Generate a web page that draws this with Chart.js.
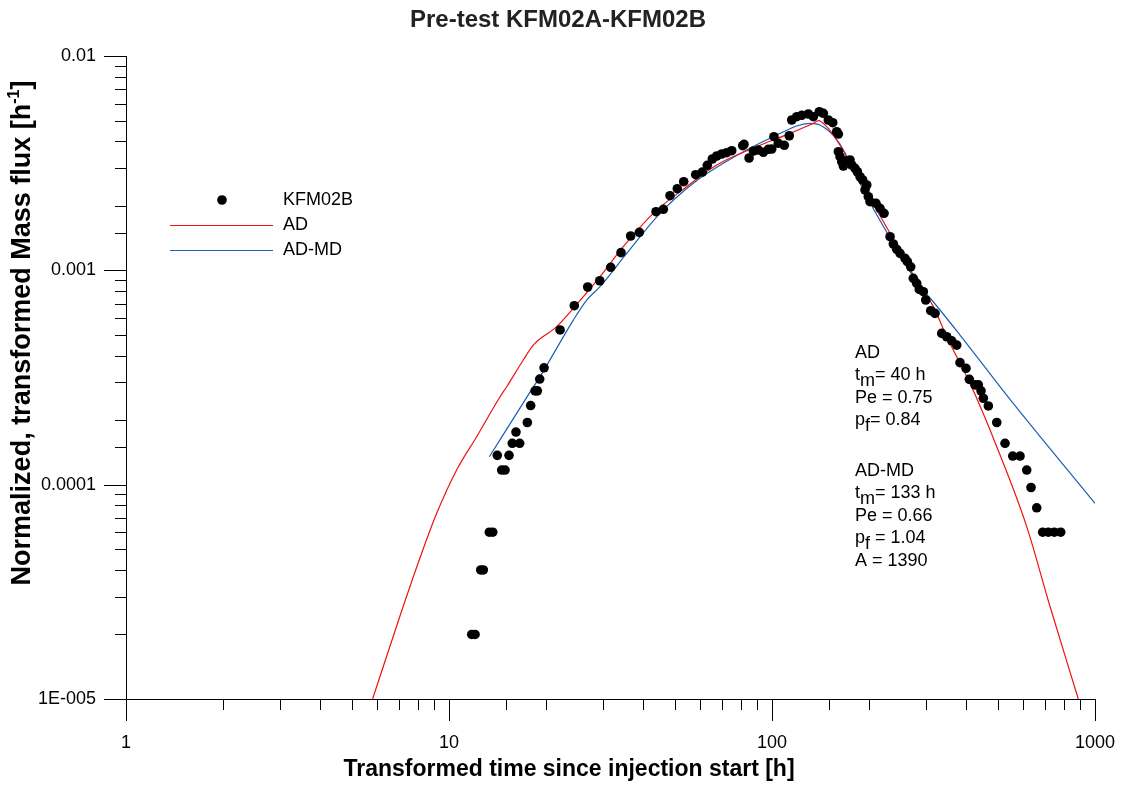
<!DOCTYPE html>
<html>
<head>
<meta charset="utf-8">
<title>Pre-test KFM02A-KFM02B</title>
<script src="https://cdn.jsdelivr.net/npm/chart.js@4.4.1/dist/chart.umd.min.js"></script>
<style>
  body { margin: 0; background: #fff; }
  #wrap { width: 1121px; height: 785px; }
</style>
</head>
<body>
<div id="wrap"><canvas id="btcChart" width="1121" height="785"></canvas></div>
<script>
// Measured breakthrough at KFM02B (time [h], normalized mass flux [1/h])
const obsTime = [
  11.76, 12.04, 12.54, 12.77, 13.33, 13.66, 14.11, 14.56, 14.91, 15.34,
  15.70, 16.12, 16.55, 17.48, 17.90, 18.47, 18.77, 19.09, 19.69, 22.07,
  24.43, 26.88, 29.29, 31.67, 34.08, 36.51, 38.84, 43.75, 46.09, 48.33,
  50.91, 53.29, 58.04, 60.84, 63.05, 65.34, 67.43, 69.88, 72.42, 75.04,
  81.18, 81.92, 84.91, 87.55, 90.72, 94.01, 97.40, 99.8, 101.4, 104.6,
  109.2, 113.1, 115.1, 119.3, 123.6, 129.6, 134.3, 140.1, 144.2, 149.4,
  154.2, 158.6, 160.5, 160.5, 162.4, 164.4, 166.3, 170.3, 174.4, 176.5,
  180.7, 183.7, 187.3, 190.9, 196.5, 194.1, 198.7, 201.1, 209.9, 216.0,
  222.3, 232.0, 237.5, 243.3, 249.1, 258.1, 262.4, 268.8, 273.8, 280.5,
  285.8, 294.1, 299.2, 310.0, 319.7, 335.3, 347.5, 360.1, 373.2, 382.0,
  398.7, 408.2, 425.2, 435.3, 443.8, 451.1, 467.5, 496.4, 526.6, 556.3,
  586.1, 614.6, 633.8, 660.0, 688.8, 717.0, 748.2, 783.1
];
const obsFlux = [
  2.0e-5, 2.0e-5, 4.0e-5, 4.0e-5, 6.0e-5, 6.0e-5, 1.37e-4, 1.17e-4, 1.17e-4, 1.37e-4,
  1.56e-4, 1.76e-4, 1.56e-4, 1.95e-4, 2.34e-4, 2.74e-4, 2.74e-4, 3.11e-4, 3.51e-4, 5.27e-4,
  6.84e-4, 8.36e-4, 8.94e-4, 1.033e-3, 1.209e-3, 1.446e-3, 1.504e-3, 1.877e-3, 1.926e-3, 2.229e-3,
  2.403e-3, 2.591e-3, 2.793e-3, 2.875e-3, 3.090e-3, 3.307e-3, 3.415e-3, 3.490e-3, 3.538e-3, 3.616e-3,
  3.815e-3, 3.873e-3, 3.343e-3, 3.604e-3, 3.642e-3, 3.553e-3, 3.670e-3, 3.682e-3, 4.201e-3, 3.915e-3,
  3.832e-3, 4.246e-3, 5.028e-3, 5.209e-3, 5.288e-3, 5.363e-3, 5.209e-3, 5.497e-3, 5.403e-3, 5.028e-3,
  4.884e-3, 4.433e-3, 4.325e-3, 3.576e-3, 3.389e-3, 3.212e-3, 3.067e-3, 3.247e-3, 3.272e-3, 3.100e-3,
  2.992e-3, 2.884e-3, 2.733e-3, 2.639e-3, 2.501e-3, 2.370e-3, 2.206e-3, 2.090e-3, 2.055e-3, 1.947e-3,
  1.845e-3, 1.435e-3, 1.327e-3, 1.253e-3, 1.200e-3, 1.137e-3, 1.097e-3, 1.039e-3, 9.18e-4, 8.70e-4,
  8.15e-4, 7.95e-4, 7.27e-4, 6.48e-4, 6.30e-4, 5.08e-4, 4.90e-4, 4.69e-4, 4.48e-4, 3.71e-4,
  3.49e-4, 3.10e-4, 2.92e-4, 2.92e-4, 2.74e-4, 2.53e-4, 2.33e-4, 1.95e-4, 1.56e-4, 1.36e-4,
  1.36e-4, 1.17e-4, 9.7e-5, 7.8e-5, 6.0e-5, 6.0e-5, 6.0e-5, 6.0e-5
];

// AD model fit
const adTime = [
  5.80, 7.05, 8.13, 9.16, 10.56, 12.18, 14.39, 15.09, 16.98, 18.24,
  21.54, 24.26, 29.35, 34.64, 42.91, 54.44, 67.43, 89.68, 113.7, 134.3,
  139.1, 147.7, 158.6, 191.8, 232.0, 273.8, 315.9, 347.5, 410.2, 496.4,
  614.6, 725.8, 887.9
];
const adFlux = [
  1.0e-5, 2.44e-5, 4.55e-5, 7.35e-5, 1.171e-4, 1.674e-4, 2.572e-4, 2.864e-4, 3.816e-4, 4.48e-4,
  5.46e-4, 6.65e-4, 9.34e-4, 1.289e-3, 1.845e-3, 2.456e-3, 3.100e-3, 3.773e-3, 4.356e-3, 4.853e-3,
  4.990e-3, 4.68e-3, 4.055e-3, 2.457e-3, 1.489e-3, 9.51e-4, 6.77e-4, 4.90e-4, 2.97e-4, 1.504e-4,
  6.37e-5, 2.70e-5, 1.0e-5
];

// AD-MD model fit
const admdTime = [
  13.33, 17.19, 19.13, 24.26, 26.69, 29.35, 35.49, 45.02, 57.06, 70.67,
  100.9, 131.1, 140.8, 160.5, 196.5, 237.5, 287.2, 312.3, 382.0, 557.5,
  1000
];
const admdFlux = [
  1.35e-4, 2.48e-4, 3.19e-4, 5.86e-4, 7.27e-4, 8.39e-4, 1.200e-3, 1.845e-3, 2.547e-3, 3.158e-3,
  4.201e-3, 4.853e-3, 4.765e-3, 3.981e-3, 2.206e-3, 1.336e-3, 8.39e-4, 7.27e-4, 4.99e-4, 2.40e-4,
  8.18e-5
];

const xTickValues = [1, 10, 100, 1000];
const xTickLabels = ['1', '10', '100', '1000'];
const yTickValues = [1e-5, 1e-4, 1e-3, 1e-2];
const yTickLabels = ['1E-005', '0.0001', '0.001', '0.01'];

// fitted parameters, "_" puts the next character in subscript
const adNotes = ['AD', 't_m= 40 h', 'Pe = 0.75', 'p_f= 0.84'];
const admdNotes = ['AD-MD', 't_m= 133 h', 'Pe = 0.66', 'p_f = 1.04', 'A = 1390'];

const FONT = '"Liberation Sans", Arial, sans-serif';

const toXY = (xs, ys) => xs.map((t, i) => ({ x: t, y: ys[i] }));

function isDecade(v) {
  const l = Math.log10(v);
  return Math.abs(l - Math.round(l)) < 1e-6;
}

function labelFor(values, labels) {
  return v => {
    const i = values.findIndex(t => Math.abs(Math.log10(t) - Math.log10(v)) < 1e-6);
    return i < 0 ? '' : labels[i];
  };
}

// text with "_x" subscripts
function drawRich(ctx, str, x, y) {
  let cx = x;
  for (let i = 0; i < str.length; i++) {
    let ch = str[i], dy = 0;
    if (ch === '_' && i + 1 < str.length) {
      ch = str[++i];
      dy = 6;
    }
    ctx.fillText(ch, cx, y + dy);
    cx += ctx.measureText(ch).width;
  }
}

const decorations = {
  id: 'decorations',
  afterDraw(chart) {
    const { ctx, chartArea: a, scales: { x, y } } = chart;
    ctx.save();

    // tick marks outside the axes, long at decades
    ctx.strokeStyle = '#000';
    ctx.lineWidth = 1;
    ctx.beginPath();
    x.ticks.forEach(t => {
      const px = Math.round(x.getPixelForValue(t.value)) + 0.5;
      const len = isDecade(t.value) ? 22 : 11;
      ctx.moveTo(px, a.bottom);
      ctx.lineTo(px, a.bottom + len);
    });
    y.ticks.forEach(t => {
      const py = Math.round(y.getPixelForValue(t.value)) + 0.5;
      const len = isDecade(t.value) ? 22 : 11;
      ctx.moveTo(a.left, py);
      ctx.lineTo(a.left - len, py);
    });
    ctx.stroke();

    // title
    ctx.fillStyle = '#222';
    ctx.textAlign = 'center';
    ctx.textBaseline = 'middle';
    ctx.font = 'bold 24px ' + FONT;
    ctx.fillText('Pre-test KFM02A-KFM02B', 558, 20);

    // x axis title
    ctx.fillStyle = '#000';
    ctx.font = 'bold 23px ' + FONT;
    ctx.fillText('Transformed time since injection start [h]', 569, 770);

    // y axis title with superscript
    ctx.save();
    ctx.translate(23, 333);
    ctx.rotate(-Math.PI / 2);
    const main = 'Normalized, transformed Mass flux [h';
    const big = 'bold 27px ' + FONT, small = 'bold 16px ' + FONT;
    ctx.font = big;
    const wMain = ctx.measureText(main).width;
    const wClose = ctx.measureText(']').width;
    ctx.font = small;
    const wSup = ctx.measureText('-1').width;
    let sx = -(wMain + wSup + wClose) / 2;
    ctx.textAlign = 'left';
    ctx.font = big;
    ctx.fillText(main, sx, 0);
    sx += wMain;
    ctx.font = small;
    ctx.fillText('-1', sx, -8);
    sx += wSup;
    ctx.font = big;
    ctx.fillText(']', sx, 0);
    ctx.restore();

    // legend
    const [obs, ad, admd] = chart.data.datasets;
    ctx.font = '18px ' + FONT;
    ctx.textAlign = 'left';
    ctx.textBaseline = 'middle';
    ctx.fillStyle = '#000';
    ctx.beginPath();
    ctx.arc(222, 200, obs.pointRadius, 0, Math.PI * 2);
    ctx.fill();
    ctx.fillText(obs.label, 283, 200);
    [[ad, 225], [admd, 250]].forEach(([ds, ly]) => {
      ctx.strokeStyle = ds.borderColor;
      ctx.lineWidth = ds.borderWidth;
      ctx.beginPath();
      ctx.moveTo(170, ly + 0.5);
      ctx.lineTo(273, ly + 0.5);
      ctx.stroke();
      ctx.fillText(ds.label, 283, ly);
    });

    // fit parameters
    adNotes.forEach((s, i) => drawRich(ctx, s, 855, 353 + i * 22.5));
    admdNotes.forEach((s, i) => drawRich(ctx, s, 855, 471 + i * 22.5));

    ctx.restore();
  }
};

new Chart(document.getElementById('btcChart'), {
  type: 'scatter',
  data: {
    datasets: [
      {
        label: 'KFM02B',
        data: toXY(obsTime, obsFlux),
        pointRadius: 4.8,
        pointBackgroundColor: '#000',
        pointBorderWidth: 0,
        showLine: false,
        order: 0
      },
      {
        label: 'AD',
        data: toXY(adTime, adFlux),
        borderColor: '#f01010',
        borderWidth: 1.2,
        pointRadius: 0,
        showLine: true,
        cubicInterpolationMode: 'monotone',
        order: 1
      },
      {
        label: 'AD-MD',
        data: toXY(admdTime, admdFlux),
        borderColor: '#1a5fb4',
        borderWidth: 1.2,
        pointRadius: 0,
        showLine: true,
        cubicInterpolationMode: 'monotone',
        order: 2
      }
    ]
  },
  options: {
    responsive: false,
    animation: false,
    layout: { padding: { top: 56, right: 26, left: 0, bottom: 0 } },
    plugins: { legend: { display: false }, tooltip: { enabled: false } },
    scales: {
      x: {
        type: 'logarithmic',
        min: 1,
        max: 1000,
        grid: { display: false, drawTicks: false },
        border: { display: true, color: '#000', width: 1 },
        afterFit: s => {
          s.height = 86;
          s.paddingLeft = 0;
          s.paddingRight = 0;
        },
        ticks: {
          autoSkip: false,
          maxRotation: 0,
          padding: 33,
          color: '#000',
          font: { family: FONT, size: 18 },
          callback: labelFor(xTickValues, xTickLabels)
        }
      },
      y: {
        type: 'logarithmic',
        min: 1e-5,
        max: 1e-2,
        grid: { display: false, drawTicks: false },
        border: { display: true, color: '#000', width: 1 },
        afterFit: s => {
          s.width = 126;
          s.paddingTop = 0;
          s.paddingBottom = 0;
        },
        ticks: {
          autoSkip: false,
          padding: 30,
          color: '#000',
          font: { family: FONT, size: 18 },
          callback: labelFor(yTickValues, yTickLabels)
        }
      }
    }
  },
  plugins: [decorations]
});
</script>
</body>
</html>
